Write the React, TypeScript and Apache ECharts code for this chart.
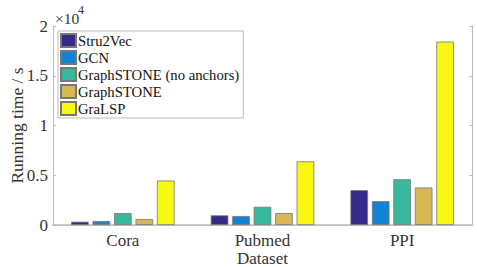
import React, { useEffect, useRef } from "react";
import * as echarts from "echarts";

const categories = ["Cora", "Pubmed", "PPI"];
const seriesNames = ["Stru2Vec", "GCN", "GraphSTONE (no anchors)", "GraphSTONE", "GraLSP"];
const stru2vec = [330, 970, 3500];
const gcn = [400, 900, 2400];
const graphstoneNoAnchors = [1200, 1830, 4600];
const graphstone = [600, 1200, 3770];
const gralsp = [4470, 6400, 18430];
const colors = ["#352a87", "#1283d4", "#38b89d", "#d6b954", "#f8f811"];
const yTicks = [0, 5000, 10000, 15000, 20000];

const FONT = "Liberation Serif";

export default function App() {
  const ref = useRef<HTMLDivElement>(null);
  useEffect(() => {
    if (!ref.current) return;
    const chart = echarts.init(ref.current, null, { renderer: "svg" });
    const values = [stru2vec, gcn, graphstoneNoAnchors, graphstone, gralsp];
    const axisColor = "#bdbdbd";
    const textColor = "#333333";
    chart.setOption({
      animation: false,
      backgroundColor: "#ffffff",
      textStyle: { fontFamily: FONT },
      grid: { left: 53, right: 5, top: 26, bottom: 42, containLabel: false, outerBoundsMode: "none" },
      legend: {
        orient: "vertical",
        left: 58,
        top: 31,
        itemWidth: 15,
        itemHeight: 13,
        itemGap: 2,
        padding: [2, 4, 2, 2],
        backgroundColor: "#ffffff",
        borderColor: "#bbbbbb",
        borderWidth: 1,
        borderRadius: 0,
        textStyle: { fontFamily: FONT, fontSize: 14.7, color: "#111111", padding: [0, 0, 0, -3] },
        data: seriesNames.map((n) => ({ name: n, icon: "rect" })),
      },
      xAxis: [
        {
          type: "category",
          data: categories,
          name: "Dataset",
          nameLocation: "middle",
          nameGap: 25,
          nameMoveOverlap: false,
          nameTextStyle: { fontFamily: FONT, fontSize: 17, color: textColor },
          axisLine: { lineStyle: { color: axisColor, width: 1.5 } },
          axisTick: { inside: true, alignWithLabel: true, length: 3, lineStyle: { color: axisColor } },
          axisLabel: { fontFamily: FONT, fontSize: 17, color: textColor, margin: 7 },
        },
        {
          type: "category",
          data: categories,
          position: "top",
          axisLine: { lineStyle: { color: axisColor } },
          axisTick: { inside: true, alignWithLabel: true, length: 3, lineStyle: { color: axisColor } },
          axisLabel: { show: false },
        },
      ],
      yAxis: [
        {
          type: "value",
          min: yTicks[0],
          max: yTicks[yTicks.length - 1],
          interval: 5000,
          name: "Running time / s",
          nameLocation: "middle",
          nameGap: 27,
          nameMoveOverlap: false,
          nameRotate: 90,
          nameTextStyle: { fontFamily: FONT, fontSize: 17.5, color: textColor },
          axisLine: { show: true, lineStyle: { color: axisColor } },
          axisTick: { show: true, inside: true, length: 3, lineStyle: { color: axisColor } },
          splitLine: { show: false },
          axisLabel: {
            fontFamily: FONT,
            fontSize: 17,
            color: textColor,
            margin: 5,
            formatter: (v: number) => String(v / 10000),
          },
        },
        {
          type: "value",
          position: "right",
          min: yTicks[0],
          max: yTicks[yTicks.length - 1],
          interval: 5000,
          axisLine: { show: true, lineStyle: { color: axisColor } },
          axisTick: { show: true, inside: true, length: 3, lineStyle: { color: axisColor } },
          splitLine: { show: false },
          axisLabel: { show: false },
        },
      ],
      graphic: [
        {
          type: "text",
          left: 55,
          top: 10,
          style: { text: "×10", fontFamily: FONT, fontSize: 15.5, fill: textColor },
        },
        {
          type: "text",
          left: 78,
          top: 4,
          style: { text: "4", fontFamily: FONT, fontSize: 12, fill: textColor },
        },
      ],
      series: seriesNames.map((name, i) => ({
        name,
        type: "bar",
        xAxisIndex: 0,
        yAxisIndex: 0,
        data: values[i],
        barWidth: 17.6,
        barGap: "22%",
        itemStyle: { color: colors[i], borderColor: "#777777", borderWidth: 0.8 },
      })),
    });
    return () => chart.dispose();
  }, []);
  return <div ref={ref} style={{ position: "absolute", left: 0, top: 0, width: 477, height: 267 }} />;
}
